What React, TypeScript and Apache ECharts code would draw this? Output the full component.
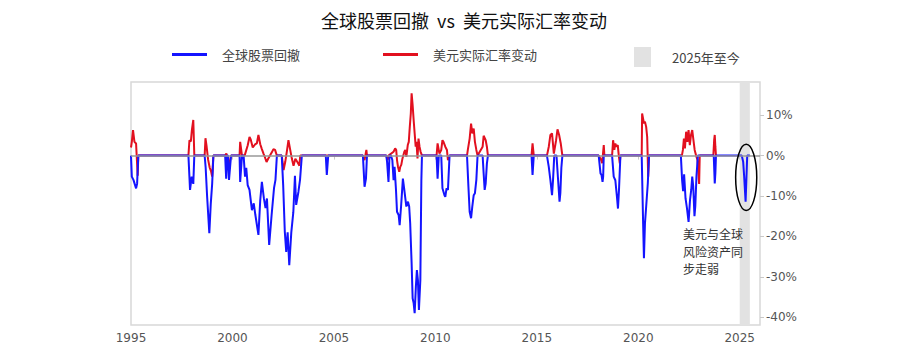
import React, { useEffect, useRef } from 'react';
import * as echarts from 'echarts';

const titleText = '全球股票回撤  vs  美元实际汇率变动';
const equityName = '全球股票回撤';
const usdName = '美元实际汇率变动';
const bandName = '2025年至今';
const noteLines = ['美元与全球', '风险资产同', '步走弱'];

const xTicks = [1995, 2000, 2005, 2010, 2015, 2020, 2025];
const yTicks = [-40, -30, -20, -10, 0, 10];
const xRange = [1995, 2026];
const yRange = [-41.9, 18.2];
const highlightBand = [2025.0, 2025.5];
const ellipseCenter = [2025.32, -5.4];
const ellipseRadii = [0.52, 8.2];
const noteAnchor = [2022.2, -17.9];

// Global equity drawdown (%), [decimal year, value]
const equityDrawdown: [number, number][] = [
  [1995.0, 0], [1995.04, -5.2], [1995.12, -6], [1995.25, -8.1], [1995.3, -7], [1995.36, 0],
  [1997.83, 0], [1997.91, -8.5], [1997.99, -5.2], [1998.07, -7], [1998.12, 0],
  [1998.63, 0], [1998.68, -3], [1998.75, -10], [1998.86, -19.2], [1998.93, -12], [1999.0, -7], [1999.06, 0],
  [1999.64, 0], [1999.69, -5.7], [1999.74, 0], [1999.78, 0], [1999.83, -6], [1999.93, 0],
  [2000.35, 0], [2000.38, -6.5], [2000.47, 0], [2000.55, 0], [2000.62, -5.2], [2000.68, -3], [2000.75, -7.3],
  [2000.84, -8.5], [2000.96, -13.5], [2001.05, -11.8], [2001.13, -14.7], [2001.28, -19.6], [2001.37, -11],
  [2001.45, -6.5], [2001.55, -10.6], [2001.63, -13], [2001.7, -10.6], [2001.81, -22.1], [2001.93, -14.7],
  [2002.05, -8], [2002.12, -6], [2002.19, 0], [2002.43, 0], [2002.5, -7.3], [2002.58, -18.8], [2002.65, -23.8],
  [2002.72, -19], [2002.8, -27.1], [2002.9, -19], [2003.0, -14], [2003.08, -5], [2003.14, -12.2], [2003.25, -9],
  [2003.33, -6], [2003.42, 0],
  [2004.6, 0], [2004.65, -4.8], [2004.72, 0],
  [2006.43, 0], [2006.51, -7.7], [2006.58, -5.7], [2006.63, 0],
  [2007.58, 0], [2007.62, -1.5], [2007.69, -6.5], [2007.74, 0], [2007.81, 0], [2007.88, -1.1], [2007.94, -6.1],
  [2007.99, -2.8], [2008.06, -8.5], [2008.11, -13.9], [2008.19, -14.7], [2008.24, -17.2], [2008.31, -12.6],
  [2008.4, -5.7], [2008.47, -8.5], [2008.57, -12.6], [2008.65, -11.4], [2008.71, -12.6], [2008.76, -16.8],
  [2008.83, -26.6], [2008.88, -35.3], [2008.93, -36.5], [2008.98, -39.0], [2009.04, -32.4], [2009.09, -28.3],
  [2009.14, -30.8], [2009.19, -38.2], [2009.26, -30.8], [2009.31, -6.1], [2009.34, 0],
  [2010.06, 0], [2010.11, -5.7], [2010.17, 0], [2010.29, 0], [2010.35, -8.1], [2010.45, -9.8], [2010.49, -10.2],
  [2010.55, -8.1], [2010.62, -8.5], [2010.7, 0],
  [2011.56, 0], [2011.63, -7.7], [2011.69, -13.9], [2011.76, -15.5], [2011.82, -12.6], [2011.89, -9.8],
  [2011.95, -9.3], [2012.02, -6], [2012.08, 0], [2012.33, 0], [2012.38, -4.4], [2012.43, -8.5], [2012.48, -6.9],
  [2012.54, -2], [2012.59, 0],
  [2014.74, 0], [2014.79, -4.8], [2014.85, 0],
  [2015.5, 0], [2015.59, -2.8], [2015.67, -6.1], [2015.75, -9.8], [2015.8, -6], [2015.86, 0], [2015.97, 0],
  [2016.05, -6.1], [2016.12, -11.4], [2016.16, -9.3], [2016.21, -3], [2016.26, 0],
  [2018.05, 0], [2018.14, -4.4], [2018.19, -4.8], [2018.24, -6.5], [2018.27, -5.2], [2018.3, 0],
  [2018.71, 0], [2018.79, -5.2], [2018.87, -6.1], [2018.95, -10.2], [2019.0, -13.1], [2019.05, -8.5], [2019.12, 0],
  [2020.17, 0], [2020.24, -16.8], [2020.28, -25.4], [2020.33, -16.8], [2020.39, -12.6], [2020.47, -6.9], [2020.53, 0],
  [2022.1, 0], [2022.16, -6], [2022.21, -8.8], [2022.26, -4.6], [2022.33, -10.6], [2022.4, -13], [2022.48, -16.4],
  [2022.55, -11], [2022.61, -8.5], [2022.66, -5.2], [2022.71, -7.7], [2022.77, -15], [2022.81, -12.6],
  [2022.87, -5], [2022.94, 0],
  [2023.72, 0], [2023.77, -6.9], [2023.8, -4.4], [2023.83, 0],
  [2025.1, 0], [2025.17, -1.5], [2025.22, -5.2], [2025.29, -11.4], [2025.37, 0], [2025.5, 0],
];

// Change in USD real exchange rate (%), [decimal year, value]
const usdRealChange: [number, number][] = [
  [1995.0, 2], [1995.04, 3.4], [1995.1, 6.3], [1995.17, 3.4], [1995.25, 3], [1995.33, -5], [1995.36, 0],
  [1997.83, 0], [1997.88, 3.8], [1997.95, 3.5], [1998.0, 6.3], [1998.07, 8.8], [1998.12, 0],
  [1998.63, 0], [1998.67, 4.3], [1998.72, 2.5], [1998.8, -1], [1998.88, -3], [1998.95, -4], [1999.0, -5.2], [1999.06, 0],
  [1999.64, 0], [1999.7, 0.5], [1999.75, -0.5], [1999.83, -2.5], [1999.93, 0],
  [2000.35, 0], [2000.38, 3.4], [2000.47, 0], [2000.6, 0], [2000.75, 2.5], [2000.84, 4.6], [2000.9, 4],
  [2001.0, 2], [2001.12, 2.8], [2001.2, 3], [2001.28, 5.1], [2001.37, 2.8], [2001.45, 1.6], [2001.53, 0.5],
  [2001.6, -0.4], [2001.68, -1.6], [2001.76, -0.8], [2001.85, 0], [2001.94, 0.8], [2002.02, 1.6], [2002.1, 1.4],
  [2002.19, 0], [2002.43, 0], [2002.52, -3.6], [2002.6, -1.6], [2002.68, 1], [2002.76, 3.8], [2002.84, 1.6],
  [2002.93, -0.8], [2003.01, -2.5], [2003.1, -0.8], [2003.2, -1.6], [2003.3, -2.5], [2003.34, 0],
  [2006.43, 0], [2006.51, -1.1], [2006.6, 1.4], [2006.63, 0],
  [2007.58, 0], [2007.65, -1.1], [2007.69, 0], [2007.94, 0.95], [2008.02, 1.8], [2008.07, 1.4], [2008.11, -1.1],
  [2008.16, -2.8], [2008.22, -4.0], [2008.27, -2.8], [2008.32, -2.3], [2008.38, -0.7], [2008.47, 0.95],
  [2008.52, 1.4], [2008.57, -0.3], [2008.64, 2.6], [2008.69, 3.4], [2008.74, 7.1], [2008.79, 10.4],
  [2008.83, 15.4], [2008.88, 12.5], [2008.93, 8.8], [2008.98, 5.5], [2009.03, 2.2], [2009.07, 3.4],
  [2009.12, -0.7], [2009.17, 4.2], [2009.22, 2.2], [2009.27, 1.0], [2009.34, 0],
  [2010.06, 0], [2010.11, 3.0], [2010.2, 0.5], [2010.29, 1.4], [2010.35, 3.8], [2010.4, 3.4], [2010.49, 2.2],
  [2010.57, 1.4], [2010.62, -1.1], [2010.7, 0],
  [2011.56, 0], [2011.6, 1.4], [2011.69, 4.2], [2011.76, 7.9], [2011.82, 5.5], [2011.89, 6.7], [2011.95, 3.4],
  [2012.02, 1.4], [2012.08, 0], [2012.33, 2.2], [2012.38, 4.9], [2012.48, 3.8], [2012.54, 2.2], [2012.59, 0],
  [2014.74, 0], [2014.79, 3.0], [2014.85, 0],
  [2015.5, 0], [2015.59, 2.2], [2015.67, 5.1], [2015.75, 5.5], [2015.84, 0.5], [2015.95, 3.8], [2016.02, 6.5],
  [2016.1, 5.1], [2016.18, 3.0], [2016.26, 0],
  [2018.05, 0], [2018.17, -1.1], [2018.22, -1.9], [2018.3, 2.6], [2018.33, 0],
  [2018.71, 0], [2018.76, 3.8], [2018.82, 1.4], [2018.87, 3.0], [2018.92, 2.2], [2018.99, 2.6], [2019.04, 0],
  [2019.09, -1.9], [2019.12, 0],
  [2020.17, 0], [2020.19, 10.4], [2020.28, 8.0], [2020.33, 8.4], [2020.39, 7.1], [2020.44, 4.6], [2020.49, -5.2],
  [2020.53, 0],
  [2022.1, 0], [2022.14, -0.3], [2022.2, 1.4], [2022.25, 4.2], [2022.3, 1.8], [2022.36, 5.9], [2022.42, 3.4],
  [2022.48, 6.3], [2022.54, 2.6], [2022.6, 5.1], [2022.66, 6.3], [2022.72, 3.8], [2022.78, 1.4], [2022.85, 0],
  [2022.92, -1.1], [2023.0, -7], [2023.03, 0],
  [2023.7, 0], [2023.74, 3.8], [2023.77, 5.1], [2023.8, 2.2], [2023.83, 0],
];

const BLUE = '#1414ff';
const RED = '#e2101f';
const BAND = '#e2e2e2';
const CJK = '"Noto Sans CJK SC", sans-serif';

export default function App() {
  const ref = useRef<HTMLDivElement>(null);
  useEffect(() => {
    if (!ref.current) return;
    const chart = echarts.init(ref.current, null, { renderer: 'svg' });
    const tickLabel = { fontFamily: 'DejaVu Sans', fontSize: 12, color: '#555' };
    const legendText = (pad: number) => ({
      fontFamily: CJK,
      fontSize: 13,
      color: '#444',
      padding: [0, 0, 0, pad],
    });
    chart.setOption({
      animation: false,
      title: {
        text: titleText,
        left: 316,
        top: 6,
        textStyle: { fontFamily: CJK, fontSize: 18, fontWeight: 'normal', color: '#111' },
      },
      legend: [
        {
          data: [equityName], left: 172, top: 48, padding: 0, icon: 'rect', itemWidth: 35, itemHeight: 3,
          selectedMode: false, textStyle: legendText(10),
        },
        {
          data: [usdName], left: 383, top: 48, padding: 0, icon: 'rect', itemWidth: 35, itemHeight: 3,
          selectedMode: false, textStyle: legendText(10),
        },
        {
          data: [bandName], left: 634, top: 47, padding: 0, icon: 'rect', itemWidth: 17, itemHeight: 20,
          selectedMode: false, textStyle: legendText(16),
        },
      ],
      grid: { left: 131, right: 139, top: 82, bottom: 27, show: true, borderColor: '#d8d8d8', borderWidth: 1.5 },
      xAxis: {
        type: 'value',
        min: xRange[0],
        max: xRange[1],
        axisLine: { show: false },
        axisTick: { show: true, customValues: xTicks, length: 4, lineStyle: { color: '#c8c8c8' } },
        axisLabel: { ...tickLabel, customValues: xTicks, margin: 7, formatter: (v: number) => String(v) },
        splitLine: { show: false },
      },
      yAxis: {
        type: 'value',
        position: 'right',
        min: yRange[0],
        max: yRange[1],
        axisLine: { show: false },
        axisTick: { show: true, customValues: yTicks, length: 4, lineStyle: { color: '#c8c8c8' } },
        axisLabel: { ...tickLabel, customValues: yTicks, margin: 6, formatter: (v: number) => `${v}%` },
        splitLine: { show: false },
      },
      series: [
        {
          name: bandName,
          type: 'line',
          data: [],
          symbol: 'none',
          itemStyle: { color: BAND },
          lineStyle: { color: BAND },
        },
        {
          name: usdName,
          type: 'line',
          data: usdRealChange,
          symbol: 'none',
          itemStyle: { color: RED },
          lineStyle: { color: RED, width: 2 },
          markArea: {
            silent: true,
            itemStyle: { color: BAND },
            data: [[{ xAxis: highlightBand[0] }, { xAxis: highlightBand[1] }]],
          },
          markLine: {
            silent: true,
            symbol: 'none',
            label: { show: false },
            lineStyle: { color: '#999', width: 1.5, type: 'solid' },
            data: [{ yAxis: 0 }],
          },
        },
        {
          name: equityName,
          type: 'line',
          data: equityDrawdown,
          symbol: 'none',
          itemStyle: { color: BLUE },
          lineStyle: { color: BLUE, width: 2 },
        },
      ],
    });

    const c = chart.convertToPixel({ gridIndex: 0 }, ellipseCenter) as number[];
    const e = chart.convertToPixel({ gridIndex: 0 }, [
      ellipseCenter[0] + ellipseRadii[0],
      ellipseCenter[1] + ellipseRadii[1],
    ]) as number[];
    const n = chart.convertToPixel({ gridIndex: 0 }, noteAnchor) as number[];
    chart.setOption({
      graphic: [
        {
          type: 'ellipse',
          shape: { cx: c[0], cy: c[1], rx: Math.abs(e[0] - c[0]), ry: Math.abs(c[1] - e[1]) },
          style: { fill: 'none', stroke: '#000', lineWidth: 1.5 },
          z: 100,
        },
        ...noteLines.map((line, i) => ({
          type: 'text',
          x: n[0],
          y: n[1] + i * 17.5,
          style: { text: line, font: `12px ${CJK}`, fill: '#333', textVerticalAlign: 'top' },
          z: 100,
        })),
      ],
    });

    return () => chart.dispose();
  }, []);
  return <div ref={ref} style={{ position: 'absolute', left: 0, top: 0, width: 899, height: 352 }} />;
}
